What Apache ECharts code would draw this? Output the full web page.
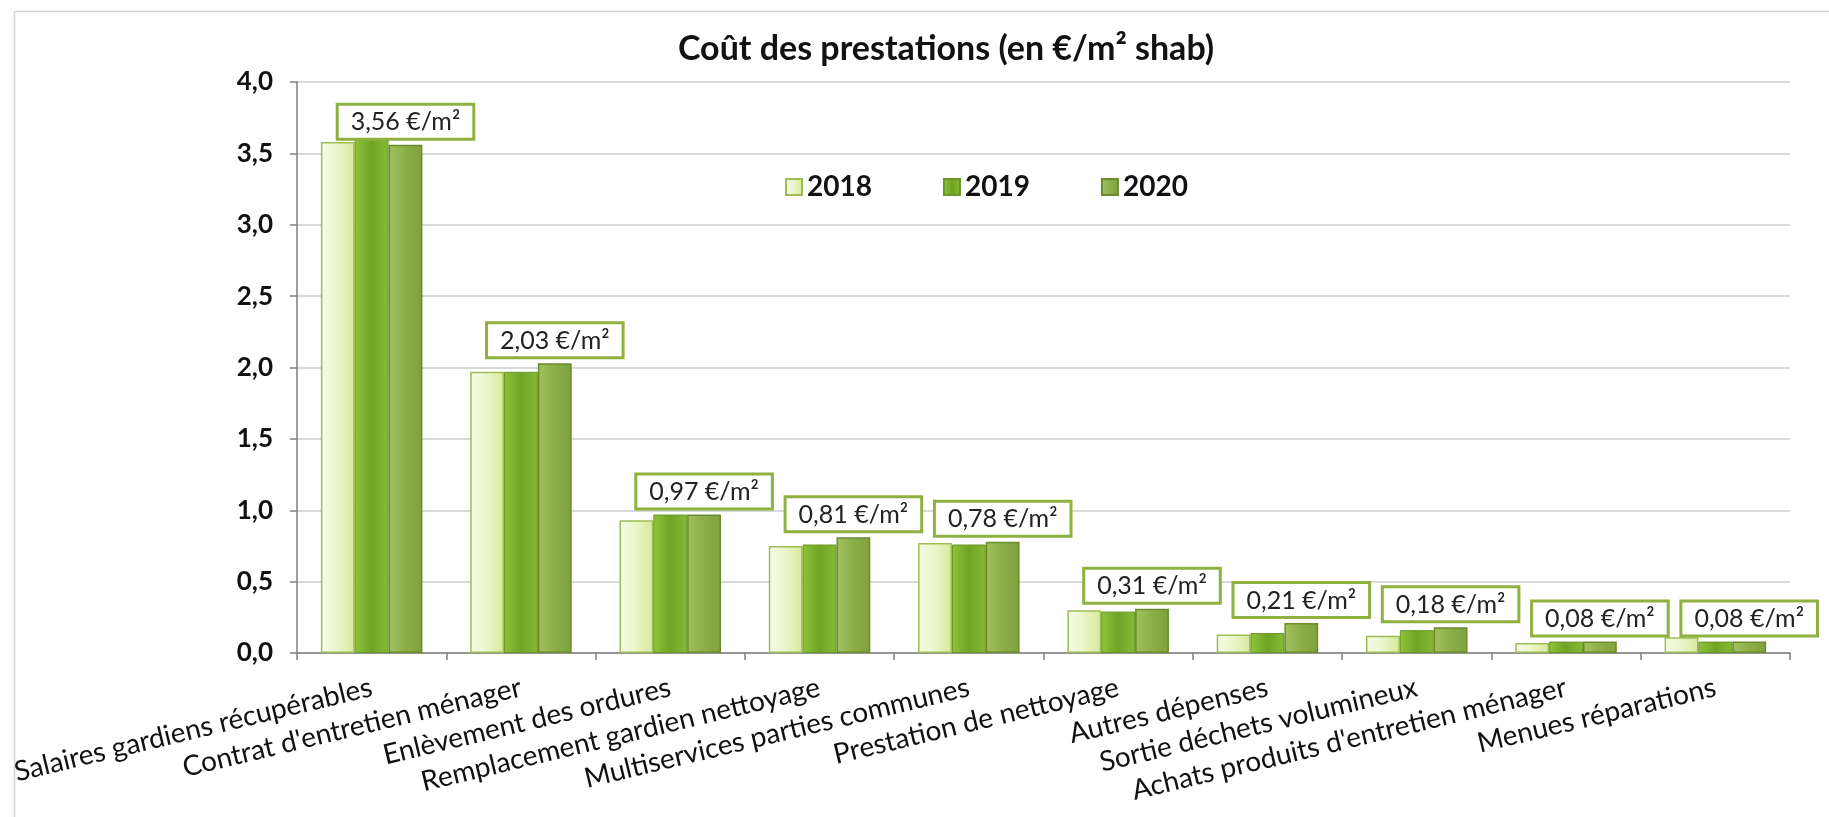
<!DOCTYPE html>
<html>
<head>
<meta charset="utf-8">
<script src="https://cdn.jsdelivr.net/npm/echarts@6/dist/echarts.min.js"></script>
<style>
	html, body { margin: 0; padding: 0; background: #fff; }
	#chart { width: 1829px; height: 817px; }
</style>
</head>
<body>
<div id="chart"></div>
<script>
// données
var categories = [
	"Salaires gardiens récupérables",
	"Contrat d'entretien ménager",
	"Enlèvement des ordures",
	"Remplacement gardien nettoyage",
	"Multiservices parties communes",
	"Prestation de nettoyage",
	"Autres dépenses",
	"Sortie déchets volumineux",
	"Achats produits d'entretien ménager",
	"Menues réparations"
];
var years = ["2018", "2019", "2020"];
var values2018 = [3.58, 1.97, 0.93, 0.75, 0.77, 0.30, 0.13, 0.12, 0.07, 0.11];
var values2019 = [3.62, 1.97, 0.97, 0.76, 0.76, 0.29, 0.14, 0.16, 0.08, 0.08];
var values2020 = [3.56, 2.03, 0.97, 0.81, 0.78, 0.31, 0.21, 0.18, 0.08, 0.08];
var yTicks = [0, 0.5, 1, 1.5, 2, 2.5, 3, 3.5, 4];

var font = "Lato";

function frNumber(v, digits) {
	return v.toFixed(digits).replace(".", ",");
}

function gradient(stops) {
	return new echarts.graphic.LinearGradient(0, 0, 1, 0, stops);
}

var chart = echarts.init(document.getElementById("chart"));

var option = {
	backgroundColor: "#ffffff",
	animation: false,
	title: {
		text: "Coût des prestations (en €/m² shab)",
		left: 941,
		top: 27,
		textAlign: "center",
		textStyle: {
			fontFamily: font,
			fontSize: 34,
			fontWeight: "bold",
			color: "#111"
		}
	},
	legend: {
		data: years,
		left: 780,
		top: 168,
		icon: "rect",
		itemWidth: 16,
		itemHeight: 16,
		itemGap: 71,
		textStyle: {
			fontFamily: font,
			fontSize: 28,
			fontWeight: "bold",
			color: "#111"
		}
	},
	graphic: [
		{
			type: "rect",
			left: 12,
			top: 9,
			shape: { width: 1840, height: 840 },
			style: { fill: "none", stroke: "#d4d4d4", lineWidth: 1.5 },
			z: -1
		}
	],
	grid: {
		left: 297,
		right: 39,
		top: 82,
		bottom: 164
	},
	xAxis: {
		type: "category",
		data: categories,
		axisLine: { lineStyle: { color: "#7f7f7f", width: 1.5 } },
		axisTick: { show: true, length: 7, lineStyle: { color: "#7f7f7f", width: 1.5 } },
		axisLabel: {
			rotate: 13.5,
			margin: 34,
			interval: 0,
			fontFamily: font,
			fontSize: 28,
			color: "#111"
		}
	},
	yAxis: {
		type: "value",
		min: yTicks[0],
		max: yTicks[yTicks.length - 1],
		interval: 0.5,
		axisLine: { show: true, lineStyle: { color: "#7f7f7f", width: 1.5 } },
		axisTick: { show: true, length: 7, lineStyle: { color: "#7f7f7f", width: 1.5 } },
		splitLine: { lineStyle: { color: "#d9d9d9", width: 2 } },
		axisLabel: {
			margin: 24,
			fontFamily: font,
			fontSize: 26,
			fontWeight: "bold",
			color: "#111",
			formatter: function (v) {
				return frNumber(v, 1);
			}
		}
	},
	series: [
		{
			name: "2018",
			type: "bar",
			barGap: "0%",
			barCategoryGap: "32%",
			data: values2018,
			itemStyle: {
				color: gradient([
					{ offset: 0, color: "#f6fbe8" },
					{ offset: 0.45, color: "#ebf6cc" },
					{ offset: 1, color: "#d5eb9a" }
				]),
				borderColor: "#9fbd55",
				borderWidth: 1.5
			}
		},
		{
			name: "2019",
			type: "bar",
			data: values2019,
			itemStyle: {
				color: gradient([
					{ offset: 0, color: "#8fc43a" },
					{ offset: 0.5, color: "#6fa325" },
					{ offset: 1, color: "#86ba36" }
				]),
				borderColor: "#6a9727",
				borderWidth: 1
			}
		},
		{
			name: "2020",
			type: "bar",
			data: values2020,
			itemStyle: {
				color: gradient([
					{ offset: 0, color: "#a2c15f" },
					{ offset: 0.5, color: "#8aae48" },
					{ offset: 1, color: "#7fa23e" }
				]),
				borderColor: "#6a8b2e",
				borderWidth: 1.5
			},
			label: {
				show: true,
				position: "top",
				distance: 7,
				fontFamily: font,
				fontSize: 25,
				lineHeight: 27,
				color: "#222",
				backgroundColor: "#ffffff",
				borderColor: "#8fb13f",
				borderWidth: 3,
				padding: [3, 12, 2, 12],
				formatter: function (p) {
					return frNumber(p.value, 2) + " €/m²";
				}
			}
		}
	]
};

chart.setOption(option);
</script>
</body>
</html>
